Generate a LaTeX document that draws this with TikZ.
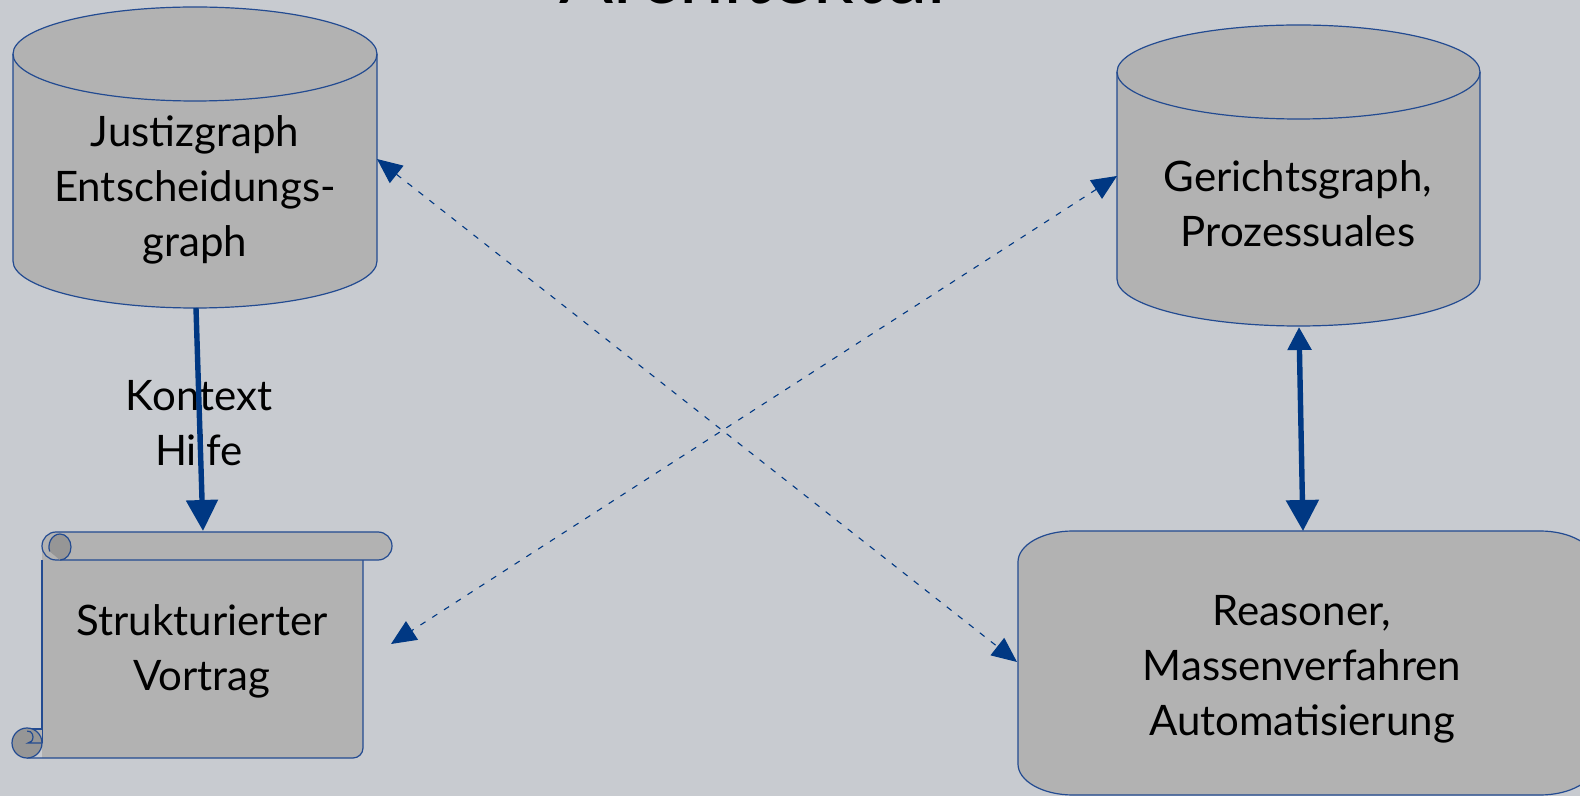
\documentclass[tikz,border=0pt]{standalone}
\usepackage{fontspec}
\setmainfont{Lato}
\usetikzlibrary{arrows.meta}
\definecolor{bgc}{RGB}{200,203,208}
\definecolor{shapegray}{RGB}{178,178,178}
\definecolor{curlgray}{RGB}{150,150,150}
\definecolor{edgeblue}{RGB}{35,75,145}
\definecolor{arrowblue}{RGB}{0,56,131}
\tikzset{
  shapefill/.style={fill=shapegray},
  shapeline/.style={draw=edgeblue,line width=0.6pt},
  lbl/.style={font=\fontsize{21}{27.5}\selectfont,align=center,text=black,inner sep=0pt},
  thickarrow/.style={draw=arrowblue,line width=2.7pt},
  dasharrow/.style={draw=arrowblue,line width=0.55pt,dash pattern=on 3pt off 4pt,
     {Triangle[length=12.5pt,width=11pt]}-{Triangle[length=12.5pt,width=11pt]}},
}
\begin{document}
\begin{tikzpicture}[x=0.5pt,y=-0.5pt]
\fill[bgc] (0,0) rectangle (1580,796);
\useasboundingbox (0,0) rectangle (1580,796);

% title (cut off at top)
\node[font=\fontsize{40}{46}\selectfont,anchor=base,inner sep=0pt] (title) at (758,4) {Architektur};

% left cylinder
\path[shapefill,shapeline] (13,54) -- (13,261) arc (180:0:182 and 47) -- (377,54) arc (0:-180:182 and 47) -- cycle;
\draw[shapeline] (13,54) arc (180:0:182 and 47);
% right cylinder
\path[shapefill,shapeline] (1117,72) -- (1117,279) arc (180:0:181.5 and 47) -- (1480,72) arc (0:-180:181.5 and 47) -- cycle;
\draw[shapeline] (1117,72) arc (180:0:181.5 and 47);

% scroll
\fill[shapegray] (42,546) -- (42,758) -- (353,758) arc (90:0:10) -- (363,546) -- cycle;
\draw[shapeline] (42,560) -- (42,743);
\draw[shapeline] (27,758) -- (353,758) arc (90:0:10) -- (363,560);
\path[shapefill,shapeline] (56,532) -- (378,532) arc (-90:90:14) -- (56,560) arc (90:270:14) -- cycle;
\path[fill=curlgray,draw=edgeblue,line width=0.6pt] (60,560) arc (90:-200:11 and 13);
\fill[shapegray] (27,729) rectangle (42,743);
\draw[shapeline] (27,729) -- (42,729);
\path[fill=curlgray,draw=edgeblue,line width=0.6pt] (27,758) arc (90:360:15) -- (42,743) arc (0:90:15);
\draw[shapeline] (42,743) -- (28,743) arc (90:-100:5 and 6);

% rounded box
\path[shapefill,shapeline] (1018,562) arc (180:270:55 and 31) -- (1540,531) arc (270:360:55 and 31) -- (1595,764) arc (0:90:55 and 31) -- (1073,795) arc (90:180:55 and 31) -- cycle;

% texts
\node[lbl] (jg) at (195,190) {Justizgraph\\Entscheidungs-\\graph};
\node[lbl] (gg) at (1298,204) {Gerichtsgraph,\\Prozessuales};
\node[lbl] (sv) at (202,651) {Strukturierter\\Vortrag};
\node[lbl] (rs) at (1302,669) {Reasoner,\\Massenverfahren\\Automatisierung};
\node[lbl] (kh) at (199,423) {Kontext\\Hilfe};

% connector end points
\coordinate (jgS) at (196,308);
\coordinate (svN) at (203,531);
\coordinate (ggS) at (1299,327);
\coordinate (rsN) at (1303,531);
\coordinate (jgE) at (377,159);
\coordinate (rsW) at (1017,662);
\coordinate (ggW) at (1117,176);
\coordinate (svE) at (391,644);

\draw[thickarrow,-{Triangle[length=15.5pt,width=15.5pt]}] (jgS) -- (svN);
\draw[thickarrow,{Triangle[length=11.5pt,width=11.5pt]}-{Triangle[length=15.5pt,width=16pt]}] (ggS) -- (rsN);
\draw[dasharrow] (jgE) -- (rsW);
\draw[dasharrow] (ggW) -- (svE);
\end{tikzpicture}
\end{document}
